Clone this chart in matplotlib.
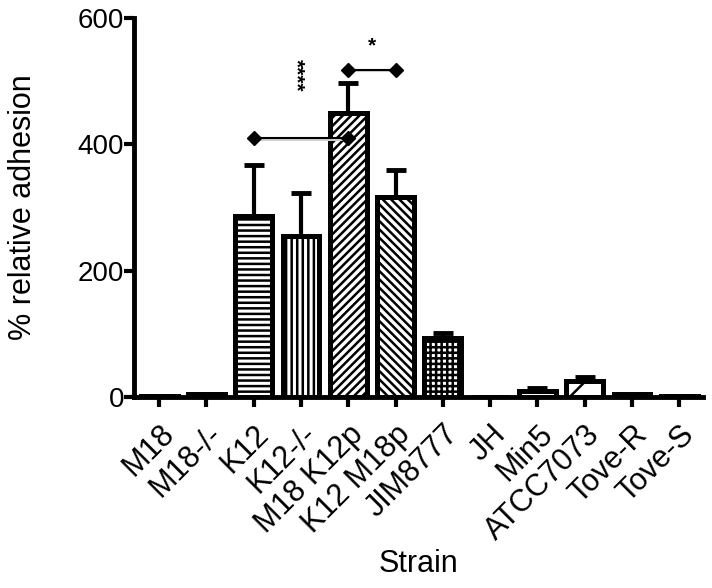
import matplotlib
matplotlib.use("Agg")
import matplotlib.pyplot as plt
import numpy as np

plt.rcParams['font.family'] = ['Liberation Sans', 'DejaVu Sans']
plt.rcParams['hatch.linewidth'] = 1.8

strains = ["M18", "M18-/-", "K12", "K12-/-", "M18 K12p", "K12 M18p", "JIM8777",
           "JH", "Min5", "ATCC7073", "Tove-R", "Tove-S"]
means = [1, 4, 287, 255, 450, 316, 93, 0, 9, 26, 4, 1]
errors = [0, 0, 80, 68, 47, 43, 9, 0, 5, 6, 1, 0]
hatches = ["", "", "---", "|||", "////", r"\\\\", "+++", "", "", "/", "", ""]
yticks = [0, 200, 400, 600]

# significance comparisons: (i, j, y, label)
sig_pairs = [(2, 4, 410, "****"), (4, 5, 518, "*")]

fig = plt.figure(figsize=(7.12, 5.88), dpi=100)
ax = fig.add_axes([134/712, 1-397/588, (703-134)/712, (397-18)/588])

x = np.arange(len(strains))
ax.bar(x, means, width=0.78, color="white", edgecolor="black", linewidth=3.6,
       hatch=hatches, zorder=2)
lower = np.zeros(len(errors))
ax.errorbar(x, means, yerr=[lower, errors], fmt="none", ecolor="black",
            elinewidth=3, capsize=7, capthick=3.5, zorder=1)

for i, j, yv, lab in sig_pairs:
    ax.plot([i, j], [yv - 2.5, yv - 2.5], color="#d0d0d0", lw=1.5, zorder=3)
    ax.plot([i, j], [yv, yv], color="black", lw=1.5, marker="D", markersize=7, zorder=4)
    if lab == "****":
        ax.text(i + 0.9, yv + 100, lab, rotation=270, ha="center", va="center",
                fontsize=15, fontweight="bold")
    else:
        ax.text((i + j) / 2, yv + 38, lab, ha="center", va="center",
                fontsize=15, fontweight="bold")

ax.set_xlim(-0.53, 11.5)
ax.set_ylim(0, 600)
ax.set_yticks(yticks)
ax.set_xticks(x)
ax.set_xticklabels(strains, rotation=45, ha="right", va="top", rotation_mode="anchor")
ax.tick_params(axis="both", width=3, length=7, direction="out")
ax.tick_params(axis="x", pad=9, labelsize=22)
ax.tick_params(axis="y", pad=0, labelsize=20)
for s in ["top", "right"]:
    ax.spines[s].set_visible(False)
for s in ["left", "bottom"]:
    ax.spines[s].set_linewidth(3.5)
ax.spines["left"].set_capstyle("projecting")

ax.set_xlabel("Strain", fontsize=22, va="center")
ax.xaxis.set_label_coords(0.5, (397 - 564) / 379)
ax.set_ylabel("% relative adhesion", fontsize=22, va="center")
ax.yaxis.set_label_coords((23 - 134) / 569, 0.5)

fig.savefig("out.png", dpi=100)
